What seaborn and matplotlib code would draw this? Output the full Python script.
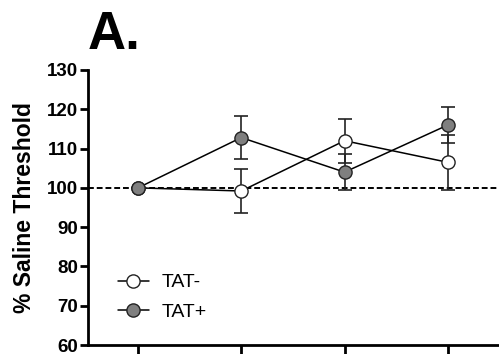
import pandas as pd
import matplotlib
matplotlib.use("Agg")
import matplotlib.pyplot as plt
import seaborn as sns

sns.set_style("ticks")
plt.rcParams['font.family'] = ['Liberation Sans', 'DejaVu Sans']
plt.rcParams['text.color'] = 'black'
plt.rcParams['axes.labelcolor'] = 'black'
plt.rcParams['xtick.color'] = 'black'
plt.rcParams['ytick.color'] = 'black'
plt.rcParams['axes.edgecolor'] = 'black'

# data
timepoints = [0, 1, 2, 3]
tat_neg = [100, 99.2, 112, 106.5]
tat_neg_err = [0, 5.5, 5.6, 7.0]
tat_pos = [100, 112.8, 104, 116]
tat_pos_err = [0, 5.5, 4.6, 4.7]
groups = ['TAT-', 'TAT+']
colors = {'TAT-': 'white', 'TAT+': '#7f7f7f'}

df = pd.DataFrame({
    'time': timepoints * 2,
    'value': tat_neg + tat_pos,
    'err': tat_neg_err + tat_pos_err,
    'group': ['TAT-'] * 4 + ['TAT+'] * 4,
})

fig = plt.figure(figsize=(4.99, 3.54), dpi=100)
ax = fig.add_axes([88 / 499, 9 / 354, 411 / 499, 275 / 354])

ax.axhline(100, color='black', lw=1.4, ls=(0, (3, 1.5)), zorder=1)

for g in groups:
    sub = df[df['group'] == g]
    ax.errorbar(sub['time'], sub['value'], yerr=sub['err'], fmt='none',
                ecolor='#222222', elinewidth=1.2, capsize=4.7, capthick=1.2, zorder=2)
    sns.lineplot(data=sub, x='time', y='value', ax=ax, color='black', lw=1.1,
                 marker='o', markersize=9.5, markerfacecolor=colors[g],
                 markeredgecolor='#222222', markeredgewidth=1.0,
                 label=g, zorder=3)

ax.set_xlim(-0.484, 3.495)
ax.set_ylim(60, 130)
ax.set_yticks(range(60, 131, 10))
ax.set_xticks(timepoints)
ax.set_xticklabels([])
ax.set_xlabel('')
ax.set_ylabel('% Saline Threshold', fontsize=16.5, fontweight='bold', labelpad=8)
for lab in ax.get_yticklabels():
    lab.set_fontweight('bold')
ax.tick_params(axis='y', labelsize=13.5, width=2, length=6, pad=1)
ax.tick_params(axis='x', width=2, length=9)
sns.despine(ax=ax)
ax.spines['left'].set_linewidth(2)
ax.spines['bottom'].set_linewidth(2)

leg = ax.legend(loc='lower left', bbox_to_anchor=(0.03, 0.025), frameon=False,
                fontsize=14, handlelength=1.6, handletextpad=0.65, labelspacing=0.6)

fig.text(88 / 499, 1 - 49 / 354, 'A.', fontsize=38, fontweight='bold', ha='left', va='baseline')

fig.savefig('out.png', dpi=100)
